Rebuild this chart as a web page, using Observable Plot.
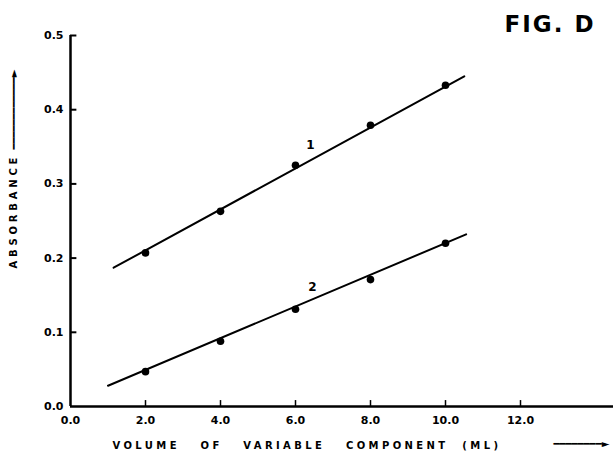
<!DOCTYPE html>
<html><head><meta charset="utf-8">
<script src="https://cdn.jsdelivr.net/npm/d3@7"></script>
<script src="https://cdn.jsdelivr.net/npm/@observablehq/plot@0.6"></script>
<style>
body{margin:0;background:#fff;}
#chart{width:613px;height:466px;}
</style></head><body><div id="chart"></div>
<script>
// data
const volumes = [2, 4, 6, 8, 10];
const absorbance1 = [0.207, 0.263, 0.325, 0.379, 0.433];
const absorbance2 = [0.047, 0.088, 0.131, 0.171, 0.220];
const fit1X = [1.15, 10.5];
const fit1Y = [0.187, 0.445];
const fit2X = [1.0, 10.55];
const fit2Y = [0.028, 0.232];
const xTicks = [0, 2, 4, 6, 8, 10, 12];
const yTicks = [0, 0.1, 0.2, 0.3, 0.4, 0.5];
const seriesNames = ["1", "2"];
const seriesLabelX = [6.4, 6.45];
const seriesLabelY = [0.352, 0.161];
const title = "FIG. D";
const xLabel = "VOLUME   OF   VARIABLE   COMPONENT  (ML)";
const yLabel = "ABSORBANCE";
const xArrow = "━━━━━━━━►";
const yArrow = "━━━━━━━━━━━━►";

const pts = [
  ...volumes.map((v, i) => ({x: v, y: absorbance1[i], s: seriesNames[0]})),
  ...volumes.map((v, i) => ({x: v, y: absorbance2[i], s: seriesNames[1]}))
];
const fits = [
  ...fit1X.map((v, i) => ({x: v, y: fit1Y[i], s: seriesNames[0]})),
  ...fit2X.map((v, i) => ({x: v, y: fit2Y[i], s: seriesNames[1]}))
];
const seriesLabels = seriesNames.map((n, i) => ({x: seriesLabelX[i], y: seriesLabelY[i], t: n}));

const font = "DejaVu Sans";
const chart = Plot.plot({
  width: 613,
  height: 466,
  marginLeft: 70,
  marginRight: 0,
  marginTop: 35,
  marginBottom: 60,
  style: {fontFamily: font, background: "#fff", color: "#000"},
  x: {domain: [0, 14.48]},
  y: {domain: [0, 0.5]},
  marks: [
    Plot.axisX(xTicks, {tickSize: 0, tickPadding: 10, tickFormat: d3.format(".1f"), fontSize: 11, fontWeight: "bold", label: null}),
    Plot.axisY(yTicks, {tickSize: 0, tickPadding: 7, tickFormat: d3.format(".1f"), fontSize: 11, fontWeight: "bold", label: null}),
    Plot.ruleX(xTicks.filter(d => d > 0), {x: d => d, y1: 0, y2: 0.008, stroke: "#000", strokeWidth: 1.5}),
    Plot.ruleY(yTicks.filter(d => d > 0), {y: d => d, x1: 0, x2: 0.17, stroke: "#000", strokeWidth: 2}),
    Plot.ruleY([0], {stroke: "#000", strokeWidth: 2.5}),
    Plot.ruleX([0], {stroke: "#000", strokeWidth: 2.5}),
    Plot.line(fits, {x: "x", y: "y", z: "s", stroke: "#000", strokeWidth: 2}),
    Plot.dot(pts, {x: "x", y: "y", r: 3.8, fill: "#000", stroke: "none"}),
    Plot.text(seriesLabels, {x: "x", y: "y", text: "t", fontSize: 12, fontWeight: "bold", fill: "#000"}),
    Plot.text([title], {frameAnchor: "top-right", dx: -18, dy: -20, textAnchor: "end", fontSize: 23, fontWeight: "bold", fill: "#000"}),
    Plot.text([xLabel], {frameAnchor: "bottom-left", dx: 42, dy: 42, textAnchor: "start", fontSize: 10, fontWeight: "bold", fill: "#000"}),
    Plot.text([xArrow], {frameAnchor: "bottom-left", dx: 483, dy: 40, textAnchor: "start", fontSize: 10, fontWeight: "bold", fill: "#000"}),
    Plot.text([yLabel], {frameAnchor: "bottom-left", dx: -54, dy: -138, textAnchor: "start", rotate: -90, fontSize: 10, fontWeight: "bold", fill: "#000"}),
    Plot.text([yArrow], {frameAnchor: "bottom-left", dx: -54, dy: -257, textAnchor: "start", rotate: -90, fontSize: 10, fontWeight: "bold", fill: "#000"})
  ]
});
const spacing = new Map([[xLabel, "3.4px"], [yLabel, "3.8px"], [title, "2px"]]);
d3.select(chart).selectAll("text").each(function() {
  const s = spacing.get(this.textContent);
  if (s) this.setAttribute("letter-spacing", s);
});
document.getElementById("chart").appendChild(chart);
</script></body></html>
